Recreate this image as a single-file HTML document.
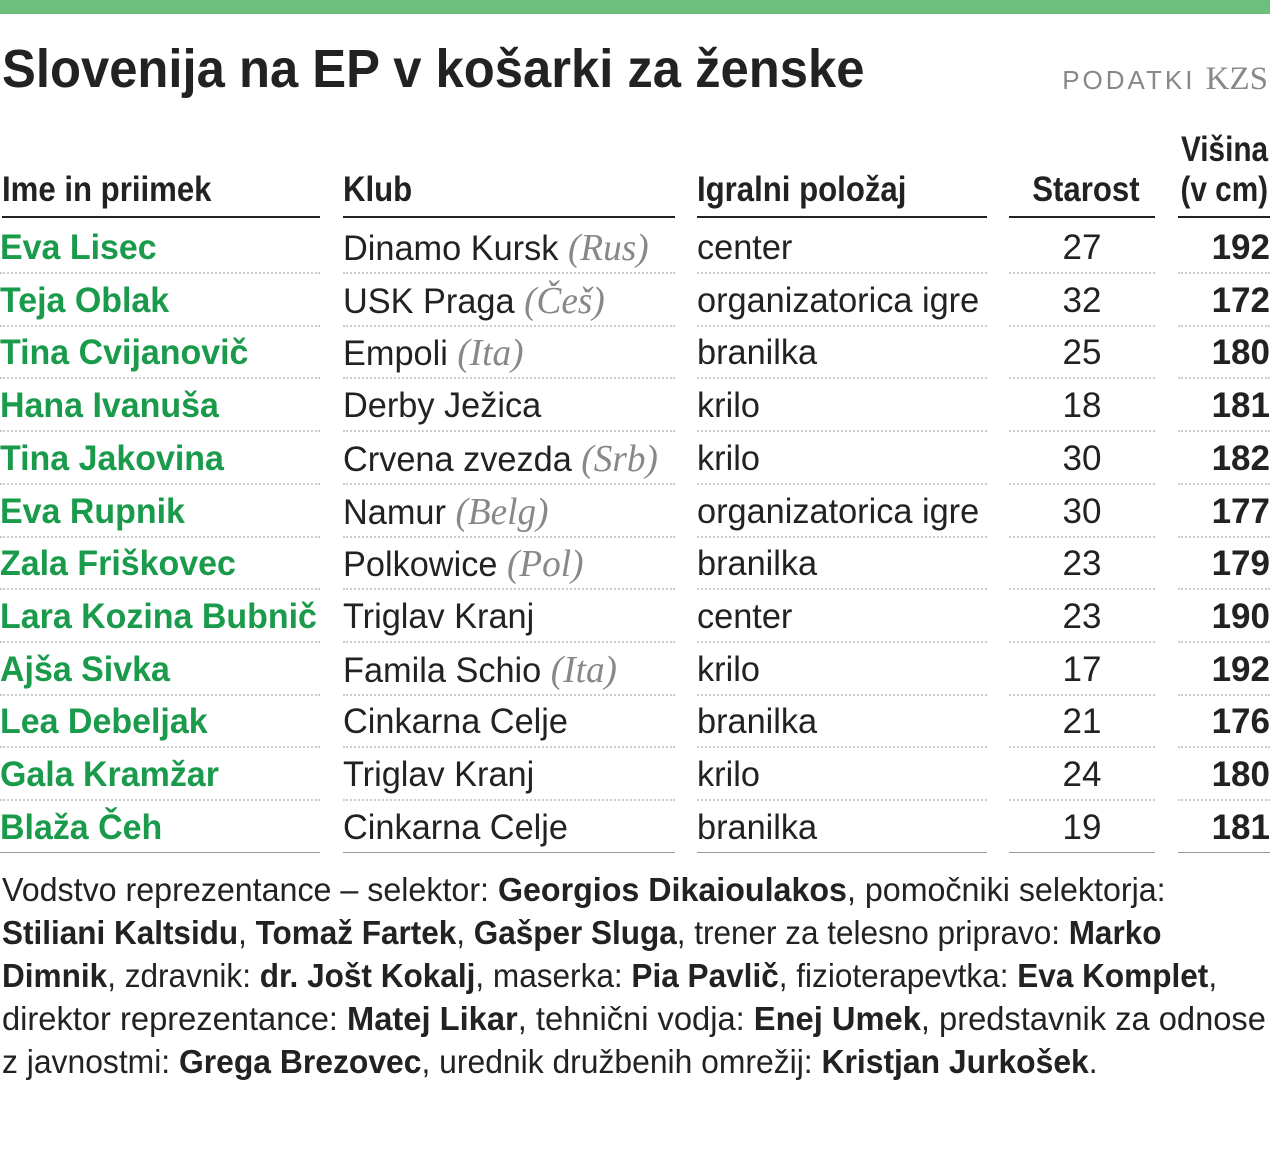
<!DOCTYPE html>
<html><head><meta charset="utf-8"><style>
body{margin:0;width:1270px;height:1160px;background:#fff;position:relative;overflow:hidden;font-family:"Liberation Sans",sans-serif;color:#222}
.bar{position:absolute;left:0;top:0;width:1270px;height:14px;background:#6dbf7e}
.t{position:absolute;white-space:nowrap;transform-origin:left top;transform:scaleX(.94)}
.title{left:2px;top:38px;font-size:54px;font-weight:bold;color:#222}
.src{position:absolute;right:2px;top:61px;font-size:26px;color:#888;letter-spacing:3px;white-space:nowrap}
.src span{font-family:"Liberation Serif",serif;font-size:33px;letter-spacing:0}
.h{position:absolute;font-size:35px;font-weight:bold;white-space:nowrap}
.h .in{transform:scaleX(.89)}
.ln{position:absolute;top:216px;height:2px;background:#222}
.row{position:absolute;left:0;width:1270px;height:52.7px}
.c{position:absolute;top:0;height:51px;border-bottom:2px dotted #ccc;font-size:35px;line-height:54px;white-space:nowrap}
.c1{left:0;width:320px;color:#1a9a4b;font-weight:bold}
.c2{left:343px;width:332px}
.c3{left:697px;width:290px}
.c4{left:1009px;width:146px;text-align:center}
.c5{left:1178px;width:92px;text-align:right;font-weight:bold}
.in{display:inline-block;transform:scaleX(.98);transform-origin:left center}
.c1 .in{transform:scaleX(.97)}
.c4 .in{transform:none}.c5 .in{transform:none}
i{font-family:"Liberation Serif",serif;color:#888;font-size:38px}
.last .c{border-bottom:1.5px solid #999}
.f{position:absolute;left:2px;font-size:33px;white-space:nowrap;transform-origin:left top;color:#222}
</style></head><body>
<div class="bar"></div>
<div class="t title">Slovenija na EP v košarki za ženske</div>
<div class="src">PODATKI <span>KZS</span></div>
<div class="h" style="left:2px;top:170px"><span class="in">Ime in priimek</span></div>
<div class="h" style="left:343px;top:170px"><span class="in">Klub</span></div>
<div class="h" style="left:697px;top:170px"><span class="in">Igralni položaj</span></div>
<div class="h" style="left:1009px;top:170px;width:131px;text-align:right"><span class="in" style="transform-origin:right center">Starost</span></div>
<div class="h" style="left:1150px;top:130px;width:118px;text-align:right;line-height:40px"><span class="in" style="transform-origin:right center;transform:scaleX(.85)">Višina<br>(v cm)</span></div>
<div class="ln" style="left:2px;width:318px"></div>
<div class="ln" style="left:343px;width:332px"></div>
<div class="ln" style="left:697px;width:290px"></div>
<div class="ln" style="left:1009px;width:146px"></div>
<div class="ln" style="left:1178px;width:92px"></div>

<div class="row" style="top:221px"><div class="c c1"><span class="in">Eva Lisec</span></div><div class="c c2"><span class="in">Dinamo Kursk <i>(Rus)</i></span></div><div class="c c3"><span class="in">center</span></div><div class="c c4"><span class="in">27</span></div><div class="c c5"><span class="in">192</span></div></div>
<div class="row" style="top:273.7px"><div class="c c1"><span class="in">Teja Oblak</span></div><div class="c c2"><span class="in">USK Praga <i>(Češ)</i></span></div><div class="c c3"><span class="in">organizatorica igre</span></div><div class="c c4"><span class="in">32</span></div><div class="c c5"><span class="in">172</span></div></div>
<div class="row" style="top:326.4px"><div class="c c1"><span class="in">Tina Cvijanovič</span></div><div class="c c2"><span class="in">Empoli <i>(Ita)</i></span></div><div class="c c3"><span class="in">branilka</span></div><div class="c c4"><span class="in">25</span></div><div class="c c5"><span class="in">180</span></div></div>
<div class="row" style="top:379.1px"><div class="c c1"><span class="in">Hana Ivanuša</span></div><div class="c c2"><span class="in">Derby Ježica</span></div><div class="c c3"><span class="in">krilo</span></div><div class="c c4"><span class="in">18</span></div><div class="c c5"><span class="in">181</span></div></div>
<div class="row" style="top:431.8px"><div class="c c1"><span class="in">Tina Jakovina</span></div><div class="c c2"><span class="in">Crvena zvezda <i>(Srb)</i></span></div><div class="c c3"><span class="in">krilo</span></div><div class="c c4"><span class="in">30</span></div><div class="c c5"><span class="in">182</span></div></div>
<div class="row" style="top:484.5px"><div class="c c1"><span class="in">Eva Rupnik</span></div><div class="c c2"><span class="in">Namur <i>(Belg)</i></span></div><div class="c c3"><span class="in">organizatorica igre</span></div><div class="c c4"><span class="in">30</span></div><div class="c c5"><span class="in">177</span></div></div>
<div class="row" style="top:537.2px"><div class="c c1"><span class="in">Zala Friškovec</span></div><div class="c c2"><span class="in">Polkowice <i>(Pol)</i></span></div><div class="c c3"><span class="in">branilka</span></div><div class="c c4"><span class="in">23</span></div><div class="c c5"><span class="in">179</span></div></div>
<div class="row" style="top:589.9px"><div class="c c1"><span class="in">Lara Kozina Bubnič</span></div><div class="c c2"><span class="in">Triglav Kranj</span></div><div class="c c3"><span class="in">center</span></div><div class="c c4"><span class="in">23</span></div><div class="c c5"><span class="in">190</span></div></div>
<div class="row" style="top:642.6px"><div class="c c1"><span class="in">Ajša Sivka</span></div><div class="c c2"><span class="in">Famila Schio <i>(Ita)</i></span></div><div class="c c3"><span class="in">krilo</span></div><div class="c c4"><span class="in">17</span></div><div class="c c5"><span class="in">192</span></div></div>
<div class="row" style="top:695.3px"><div class="c c1"><span class="in">Lea Debeljak</span></div><div class="c c2"><span class="in">Cinkarna Celje</span></div><div class="c c3"><span class="in">branilka</span></div><div class="c c4"><span class="in">21</span></div><div class="c c5"><span class="in">176</span></div></div>
<div class="row" style="top:748px"><div class="c c1"><span class="in">Gala Kramžar</span></div><div class="c c2"><span class="in">Triglav Kranj</span></div><div class="c c3"><span class="in">krilo</span></div><div class="c c4"><span class="in">24</span></div><div class="c c5"><span class="in">180</span></div></div>
<div class="row last" style="top:800.7px"><div class="c c1"><span class="in">Blaža Čeh</span></div><div class="c c2"><span class="in">Cinkarna Celje</span></div><div class="c c3"><span class="in">branilka</span></div><div class="c c4"><span class="in">19</span></div><div class="c c5"><span class="in">181</span></div></div>

<div class="f" style="top:871px;transform:scaleX(.976)">Vodstvo reprezentance – selektor: <b>Georgios Dikaioulakos</b>, pomočniki selektorja:</div>
<div class="f" style="top:914px;transform:scaleX(.954)"><b>Stiliani Kaltsidu</b>, <b>Tomaž Fartek</b>, <b>Gašper Sluga</b>, trener za telesno pripravo: <b>Marko</b></div>
<div class="f" style="top:957px;transform:scaleX(.956)"><b>Dimnik</b>, zdravnik: <b>dr. Jošt Kokalj</b>, maserka: <b>Pia Pavlič</b>, fizioterapevtka: <b>Eva Komplet</b>,</div>
<div class="f" style="top:1000px;transform:scaleX(.99)">direktor reprezentance: <b>Matej Likar</b>, tehnični vodja: <b>Enej Umek</b>, predstavnik za odnose</div>
<div class="f" style="top:1043px;transform:scaleX(.965)">z javnostmi: <b>Grega Brezovec</b>, urednik družbenih omrežij: <b>Kristjan Jurkošek</b>.</div>
</body></html>
